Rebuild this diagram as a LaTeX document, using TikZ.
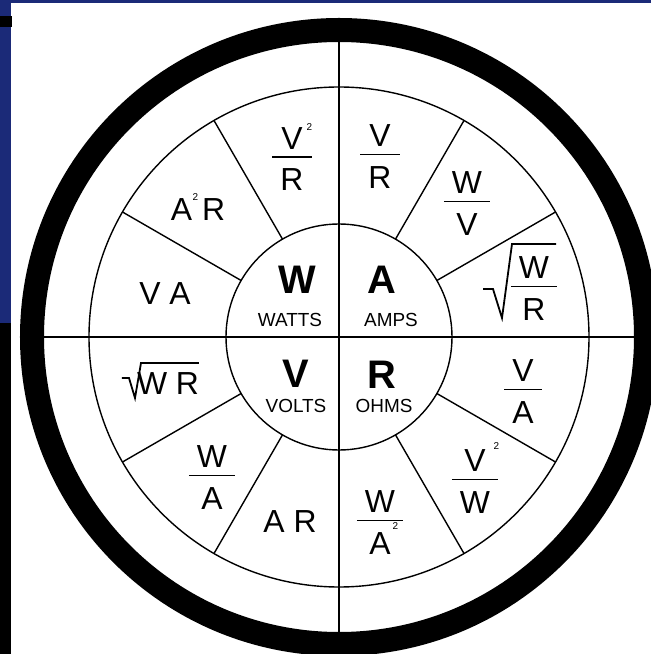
\documentclass[tikz,border=0pt]{standalone}
\usepackage{fontspec}
\setmainfont{Liberation Sans}
\definecolor{slideblue}{RGB}{27,42,120}
% fraction with a bar wider than its letters
\newcommand{\frc}[2]{{\renewcommand{\arraystretch}{0}\setlength{\arrayrulewidth}{1.8bp}%
  \begin{tabular}{@{\hspace{8bp}}c@{\hspace{8bp}}}\rule[-7bp]{0pt}{30bp}#1\\\hline\rule{0pt}{33bp}#2\end{tabular}}}
% small square
\newcommand{\sq}[1][20bp]{\raisebox{#1}{\fontsize{10}{10}\selectfont 2}}

\begin{document}
\begin{tikzpicture}[x=1bp, y=1bp,
    ring/.style={line width=24bp},
    axis/.style={line width=2.4bp},
    circ/.style={line width=1.4bp},
    spoke/.style={line width=1.4bp},
    root/.style={line width=1.8bp, line join=miter},
    big/.style={font=\fontsize{32}{38}\selectfont},
    unit/.style={font=\bfseries\fontsize{40}{46}\selectfont},
    unitname/.style={font=\fontsize{19}{22}\selectfont}]
    % Background
    \clip (-339,-317) rectangle (312,337);
    \fill[white] (-339,-317) rectangle (312,337);
    \fill[slideblue] (-339,334) rectangle (312,337);
    \fill[slideblue] (-339,14) rectangle (-328,337);
    \fill[black] (-339,-317) rectangle (-328,14);
    \fill[black] (-339,310) rectangle (-327,321);

    % Circles
    \draw[ring] (0,0) circle (307);
    \draw[circ] (0,0) circle (250);
    \draw[circ] (0,0) circle (113);

    % Axes
    \draw[axis] (-295,0) -- (295,0);
    \draw[axis] (0,-295) -- (0,295);

    % Spokes
    \foreach \a in {30,60,120,150,210,240,300,330} {
        \draw[spoke] (\a:113) -- (\a:250);
    }

    % Centre
    \node[unit] (W) at (-42,57) {W};
    \node[unitname] (watts) at (-49,17) {WATTS};
    \node[unit] (A) at (43,57) {A};
    \node[unitname] (amps) at (52,17) {AMPS};
    \node[unit] (V) at (-43,-37) {V};
    \node[unitname] (volts) at (-43,-69) {VOLTS};
    \node[unit] (R) at (43,-38) {R};
    \node[unitname] (ohms) at (45,-69) {OHMS};

    % Watts
    \node[big] (VsqR) at (-47,180) {\frc{V\rlap{\hspace{4bp}\sq[19bp]}}{R}};
    \node[big] (AsqR) at (-141,130) {A\kern0.5bp\sq\kern4bp R};
    \node[big] (VA) at (-174,43) {V A};
    % Amps
    \node[big] (VR) at (41,181) {\frc{V}{R}};
    \node[big] (WV) at (128,134) {\frc{W}{V}};
    \node[big] (WR) at (195,49) {\frc{W}{R}};
    \draw[root] ([shift={(-51,-1)}]WR.center) -- ([shift={(-41,-1)}]WR.center)
        -- ([shift={(-32,-30)}]WR.center) -- ([shift={(-22,44)}]WR.center)
        -- ([shift={(22,44)}]WR.center);
    % Volts
    \node[big] (WRv) at (-171,-47) {W R};
    \draw[root] ([shift={(-46,6)}]WRv.center) -- ([shift={(-39,6)}]WRv.center)
        -- ([shift={(-33,-14)}]WRv.center) -- ([shift={(-27,21)}]WRv.center)
        -- ([shift={(31,21)}]WRv.center);
    \node[big] (WA) at (-127,-140) {\frc{W}{A}};
    \node[big] (AR) at (-49,-185) {A R};
    % Ohms
    \node[big] (WAsq) at (41,-185) {\frc{W}{A\rlap{\hspace{2bp}\sq[25bp]}}};
    \node[big] (VsqW) at (136,-141) {\frc{V\rlap{\hspace{8bp}\sq[22bp]}}{W}};
    \node[big] (VAo) at (184,-54) {\frc{V}{A}};
\end{tikzpicture}
\end{document}
